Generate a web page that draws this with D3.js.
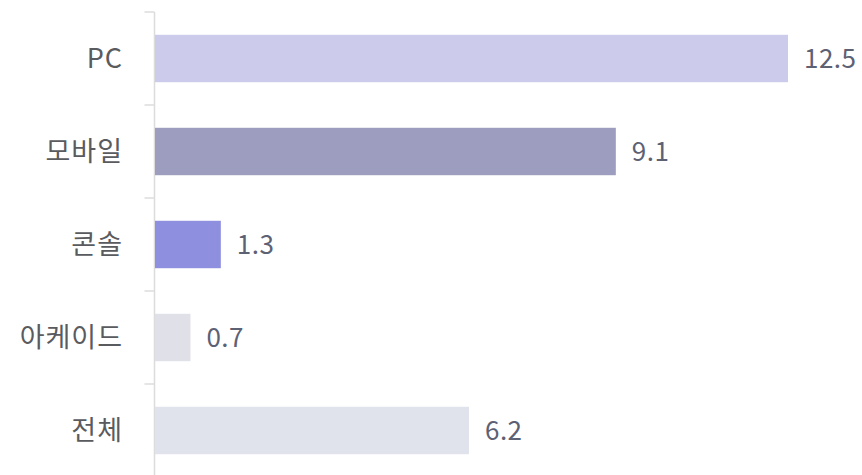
<!DOCTYPE html>
<html>
<head>
<meta charset="utf-8">
<script src="https://cdn.jsdelivr.net/npm/d3@7"></script>
<style>
  html, body { margin: 0; padding: 0; background: #ffffff; }
  svg { display: block; }
  text { font-family: "Noto Sans CJK KR", "Noto Sans", sans-serif; }
</style>
</head>
<body>
<svg id="chart" width="862" height="475"></svg>
<script>
// Categories, values and bar colours
const categories = ["PC", "모바일", "콘솔", "아케이드", "전체"];
const values = [12.5, 9.1, 1.3, 0.7, 6.2];
const barColors = ["#cdcbeb", "#9d9ebf", "#8f8fdf", "#dfe0e8", "#e0e3eb"];

const width = 862, height = 475;
const axisX = 154.5;

const svg = d3.select("#chart");

const y = d3.scaleBand()
  .domain(categories)
  .range([12, 477])
  .paddingInner(0.49)
  .paddingOuter(0.245);

const x = d3.scaleLinear()
  .domain([0, 12.5])
  .range([155, 788]);

// Left axis: vertical rule plus short ticks between categories
const axisG = svg.append("g").attr("class", "axis");
axisG.append("line")
  .attr("x1", axisX).attr("x2", axisX)
  .attr("y1", y.range()[0]).attr("y2", height + 5)
  .attr("stroke", "#dcdcdc").attr("stroke-width", 1.5);

const step = y.step();
const boundaries = d3.range(categories.length + 1).map(i => y.range()[0] + i * step);
axisG.selectAll("line.tick")
  .data(boundaries)
  .join("line")
  .attr("class", "tick")
  .attr("x1", axisX - 10).attr("x2", axisX)
  .attr("y1", d => d).attr("y2", d => d)
  .attr("stroke", "#dcdcdc").attr("stroke-width", 1.5);

// Category labels
svg.append("g").selectAll("text")
  .data(categories)
  .join("text")
  .attr("x", 123)
  .attr("y", d => y(d) + y.bandwidth() / 2)
  .attr("dy", "0.35em")
  .attr("text-anchor", "end")
  .attr("font-size", 27)
  .attr("letter-spacing", "1px")
  .attr("fill", "#5a5b5e")
  .text(d => d);

// Value labels
svg.append("g").selectAll("text")
  .data(values)
  .join("text")
  .attr("x", d => x(d) + 16)
  .attr("y", (d, i) => y(categories[i]) + y.bandwidth() / 2)
  .attr("dy", "0.35em")
  .attr("font-size", 26)
  .attr("letter-spacing", "0.5px")
  .attr("fill", "#5c6174")
  .text(d => d3.format(".1f")(d));

// Bars
svg.append("g").selectAll("rect")
  .data(values)
  .join("rect")
  .attr("x", x(0))
  .attr("y", (d, i) => y(categories[i]))
  .attr("width", d => x(d) - x(0))
  .attr("height", y.bandwidth())
  .attr("fill", (d, i) => barColors[i]);
</script>
</body>
</html>
